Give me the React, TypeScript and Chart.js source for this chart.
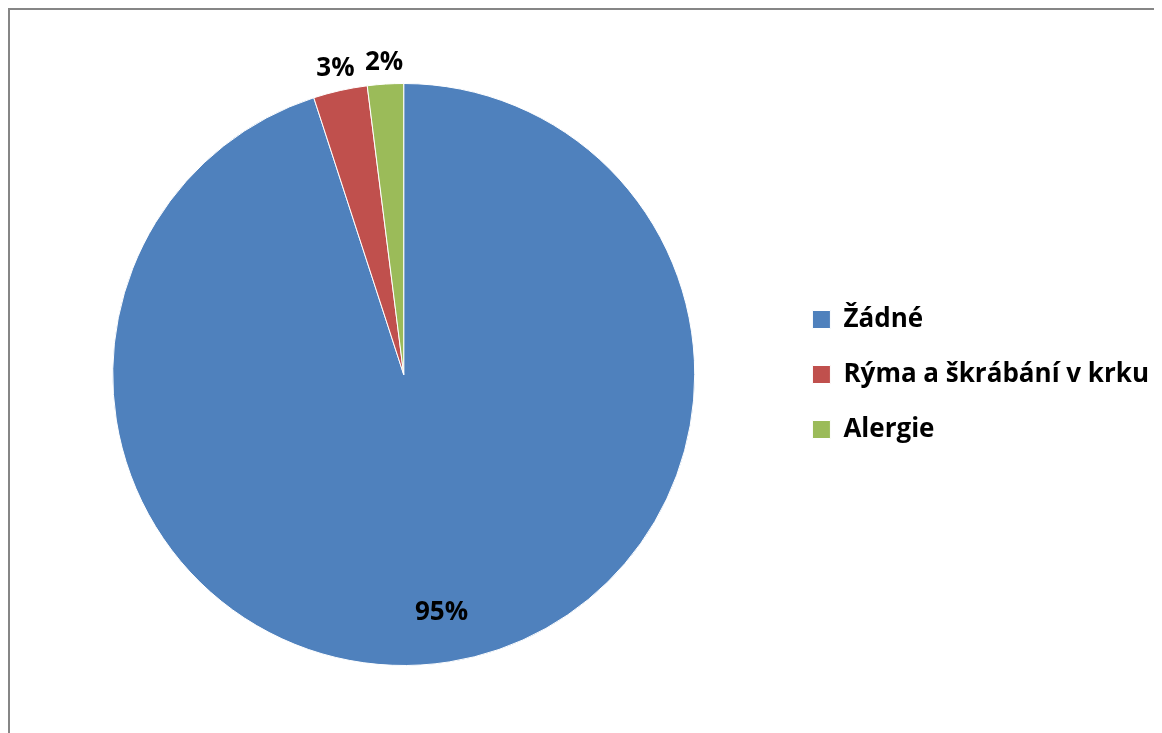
import React, { useEffect, useRef } from 'react';
import { Chart, registerables } from 'chart.js';

Chart.register(...registerables);

const categories = ['Žádné', 'Rýma a škrábání v krku', 'Alergie'];
const values = [95, 3, 2];
const colors = ['#4F81BD', '#C0504D', '#9BBB59'];

const FONT = "'Open Sans', 'Noto Sans', sans-serif";

const sliceLabels = {
  id: 'sliceLabels',
  afterDatasetsDraw(chart: any) {
    const ctx = chart.ctx;
    const meta = chart.getDatasetMeta(0);
    const data = chart.data.datasets[0].data as number[];
    const total = data.reduce((a: number, b: number) => a + b, 0);
    ctx.save();
    ctx.font = `bold 26px ${FONT}`;
    ctx.fillStyle = '#000000';
    ctx.textAlign = 'center';
    ctx.textBaseline = 'middle';
    meta.data.forEach((arc: any, i: number) => {
      const { x, y, startAngle, endAngle, outerRadius } = arc.getProps(
        ['x', 'y', 'startAngle', 'endAngle', 'outerRadius'],
        true
      );
      const mid = (startAngle + endAngle) / 2;
      const frac = data[i] / total;
      const d = frac > 0.1 ? outerRadius * 0.83 : outerRadius + 22;
      ctx.fillText(
        Math.round(frac * 100) + '%',
        x + Math.cos(mid) * d,
        y + Math.sin(mid) * d
      );
    });
    ctx.restore();
  },
};

export default function App() {
  const canvasRef = useRef<HTMLCanvasElement | null>(null);

  useEffect(() => {
    if (!canvasRef.current) return;
    Chart.defaults.font.family = FONT;
    const chart = new Chart(canvasRef.current, {
      type: 'pie',
      data: {
        labels: categories,
        datasets: [
          {
            data: values,
            backgroundColor: colors,
            borderColor: '#ffffff',
            borderWidth: 1,
          },
        ],
      },
      options: {
        animation: false,
        responsive: true,
        maintainAspectRatio: false,
        layout: { padding: { left: 14, right: 51, top: 73, bottom: 67 } },
        plugins: {
          tooltip: { enabled: false },
          legend: {
            position: 'right',
            labels: {
              boxWidth: 18,
              boxHeight: 18,
              padding: 29,
              color: '#000000',
              font: { family: FONT, size: 26, weight: 'bold' },
            },
          },
        },
      },
      plugins: [sliceLabels],
    });
    return () => chart.destroy();
  }, []);

  return (
    <div
      style={{
        width: 1154,
        height: 725,
        overflow: 'hidden',
        borderTop: '2px solid #868686',
        borderLeft: '2px solid #868686',
        boxSizing: 'border-box',
        background: '#ffffff',
      }}
    >
      <div style={{ width: 1200, height: 723, position: 'relative' }}>
        <canvas ref={canvasRef} />
      </div>
    </div>
  );
}
